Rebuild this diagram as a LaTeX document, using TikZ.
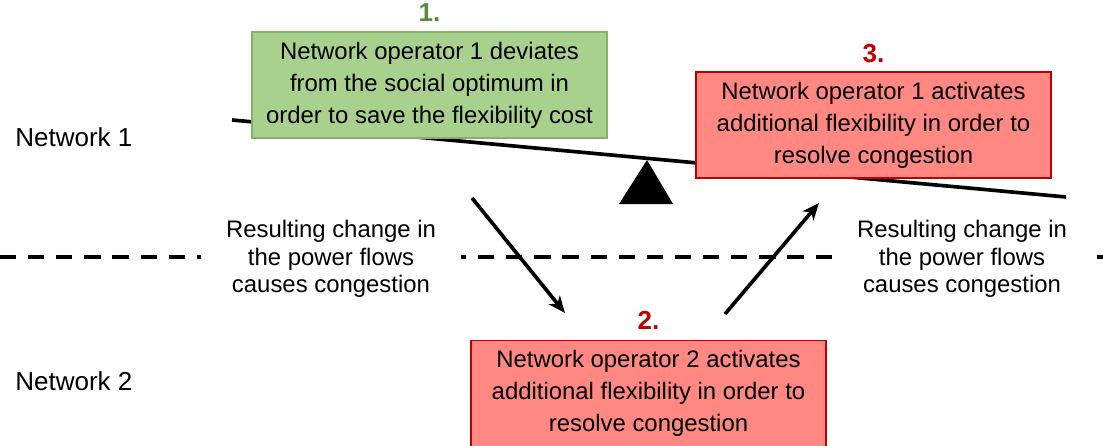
\documentclass[tikz,border=0pt]{standalone}
\usepackage{fontspec}
\setmainfont{Liberation Sans}
\usetikzlibrary{arrows.meta,positioning}
\definecolor{boxgreen}{HTML}{A9D18E}
\definecolor{edgegreen}{HTML}{82B366}
\definecolor{boxred}{HTML}{FF8882}
\definecolor{edgered}{HTML}{C00000}
\definecolor{numgreen}{HTML}{5A8A3C}
\begin{document}
\begin{tikzpicture}[x=0.025cm,y=-0.025cm,
	opbox/.style={draw,line width=0.9pt,minimum width=8.875cm,minimum height=2.65cm,align=center,
		inner sep=0pt,font=\fontsize{17}{22.8}\selectfont},
	greenbox/.style={opbox,draw=edgegreen,fill=boxgreen},
	redbox/.style={opbox,draw=edgered,fill=boxred},
	steplabel/.style={inner sep=0pt,font=\fontsize{18.5}{22}\selectfont\bfseries},
	sidetext/.style={fill=white,align=center,inner xsep=18pt,inner ysep=2pt,font=\fontsize{17}{19.6}\selectfont},
	netlabel/.style={anchor=west,inner sep=0pt,font=\fontsize{18.5}{22}\selectfont},
	flow/.style={line width=2.6pt,-{Stealth[length=12pt,width=10pt,inset=3.5pt]}}]
	
	\useasboundingbox (0,0) rectangle (1103,446);
	
	% border between the two networks
	\draw[line width=2.6pt,dash pattern=on 11.5pt off 8.5pt] (0,257) -- (1103,257);
	\node[sidetext] (flowsL) at (331,259) {Resulting change in\\the power flows\\causes congestion};
	\node[sidetext] (flowsR) at (962,259) {Resulting change in\\the power flows\\causes congestion};
	
	\node[netlabel] (net1) at (15,137) {Network 1};
	\node[netlabel] (net2) at (15,381) {Network 2};
	
	% seesaw
	\draw[line width=2.6pt] (232,120) -- (1066,197);
	\fill (619,204) -- (647,160) -- (673,204) -- cycle;
	
	\node[greenbox] (op1dev) at (429.5,85) {Network operator 1 deviates\\from the social optimum in\\order to save the flexibility cost};
	\node[steplabel,numgreen,above=7pt of op1dev] (step1) {1.};
	
	\node[redbox] (op2act) at (648.5,393.5) {Network operator 2 activates\\additional flexibility in order to\\resolve congestion};
	\node[steplabel,edgered,above=7pt of op2act] (step2) {2.};
	
	\node[redbox] (op1act) at (873.5,125) {Network operator 1 activates\\additional flexibility in order to\\resolve congestion};
	\node[steplabel,edgered,above=6pt of op1act] (step3) {3.};
	
	\coordinate (down0) at (472,198);
	\coordinate (down1) at (565,313);
	\coordinate (up0) at (725,314);
	\coordinate (up1) at (819,203);
	\draw[flow] (down0) -- (down1);
	\draw[flow] (up0) -- (up1);
\end{tikzpicture}
\end{document}
